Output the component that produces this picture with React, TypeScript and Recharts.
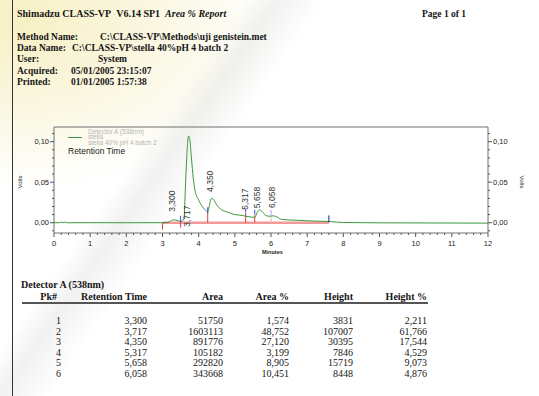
import React from "react";
import {
  ComposedChart,
  Line,
  XAxis,
  YAxis,
  ReferenceLine,
  ReferenceDot,
} from "recharts";

// chromatogram trace (minutes, volts)
const TIME = [
  0, 0.15, 0.2, 0.25, 0.3, 0.35, 1, 2, 3, 3.15, 3.2, 3.3, 3.4, 3.5, 3.55,
  3.6, 3.63, 3.67, 3.7, 3.72, 3.75, 3.8, 3.85, 3.9, 4.0, 4.1, 4.2, 4.25, 4.3,
  4.35, 4.4, 4.5, 4.6, 4.8, 5.0, 5.2, 5.3, 5.45, 5.55, 5.62, 5.68, 5.75, 5.85,
  5.95, 6.058, 6.15, 6.3, 6.7, 7.2, 7.6, 8.0, 9.3, 12,
];
const SIGNAL = [
  0, 0, 0.0008, 0, 0.0008, 0, 0, 0, 0, 0.0003, 0.0015, 0.0035, 0.003, 0.0015,
  0.002, 0.008, 0.04, 0.08, 0.102, 0.107, 0.104, 0.08, 0.055, 0.04, 0.028,
  0.02, 0.015, 0.013, 0.022, 0.03, 0.029, 0.022, 0.017, 0.013, 0.01, 0.009,
  0.008, 0.007, 0.0065, 0.013, 0.016, 0.014, 0.009, 0.008, 0.0085, 0.0075,
  0.004, 0.003, 0.002, 0.0015, 0.0003, -0.0002, -0.0005,
];

// integration marks
const PEAK_TIMES = [3.3, 3.717, 4.35, 5.317, 5.658, 6.058];
const PEAK_LABELS = ["3,300", "3,717", "4,350", "5,317", "5,658", "6,058"];
const LABEL_LEVELS = [0.0135, -0.005, 0.038, 0.016, 0.018, 0.018];

const BASELINE_START = 3.0;
const BASELINE_END = 7.6;
const DROP_TIMES = [3.0, 3.5, 4.25, 5.3, 5.55, 6.0];
const DROP_LOW = [-0.0085, -0.006, 0, 0, 0, 0];
const DROP_HIGH = [0, 0.004, 0.013, 0.012, 0.009, 0.008];
const TICK_TIMES = [3.5, 4.25, 5.3, 5.55, 6.0, 7.6];
const TICK_LOW = [0.001, 0.012, 0.0125, 0.01, 0.009, 0.0005];
const TICK_HIGH = [0.0085, 0.019, 0.0175, 0.016, 0.016, 0.009];

// axes
const X_DOMAIN = [0, 12];
const X_TICKS = [
  0, 0.2, 0.4, 0.6, 0.8, 1, 1.2, 1.4, 1.6, 1.8, 2, 2.2, 2.4, 2.6, 2.8, 3, 3.2,
  3.4, 3.6, 3.8, 4, 4.2, 4.4, 4.6, 4.8, 5, 5.2, 5.4, 5.6, 5.8, 6, 6.2, 6.4,
  6.6, 6.8, 7, 7.2, 7.4, 7.6, 7.8, 8, 8.2, 8.4, 8.6, 8.8, 9, 9.2, 9.4, 9.6,
  9.8, 10, 10.2, 10.4, 10.6, 10.8, 11, 11.2, 11.4, 11.6, 11.8, 12,
];
const Y_DOMAIN = [-0.0127, 0.1181];
const Y_TICKS = [
  -0.01, 0, 0.01, 0.02, 0.03, 0.04, 0.05, 0.06, 0.07, 0.08, 0.09, 0.1, 0.11,
];
const Y_LABELS: Record<string, string> = { "0": "0,00", "0.05": "0,05", "0.1": "0,10" };

// peak table
const PK = ["1", "2", "3", "4", "5", "6"];
const RET_TIME = ["3,300", "3,717", "4,350", "5,317", "5,658", "6,058"];
const AREA = ["51750", "1603113", "891776", "105182", "292820", "343668"];
const AREA_PCT = ["1,574", "48,752", "27,120", "3,199", "8,905", "10,451"];
const HEIGHT = ["3831", "107007", "30395", "7846", "15719", "8448"];
const HEIGHT_PCT = ["2,211", "61,766", "17,544", "4,529", "9,073", "4,876"];

const HEADER_ROWS = [
  ["Method Name:", "C:\\CLASS-VP\\Methods\\uji genistein.met", 100],
  ["Data Name:", "C:\\CLASS-VP\\stella 40%pH 4 batch 2", 72],
  ["User:", "System", 98],
  ["Acquired:", "05/01/2005 23:15:07", 71],
  ["Printed:", "01/01/2005 1:57:38", 71],
] as const;

const GREEN = "#3a9a3a";
const AXIS = "#707070";
const SANS = '"Liberation Sans", Arial, sans-serif';
const SERIF = '"Liberation Serif", "Times New Roman", serif';

const data = TIME.map((t, i) => ({ t, v: SIGNAL[i] }));

const isMajorX = (v: number) => Math.abs(v - Math.round(v)) < 1e-6;

function XTick(props: any) {
  const { x, y, payload } = props;
  const major = isMajorX(payload.value);
  return (
    <g>
      <line x1={x} x2={x} y1={y} y2={y + (major ? 4 : 2)} stroke="#555" />
      {major && (
        <text x={x} y={y + 13} textAnchor="middle" fontSize={7.5} fill="#222" fontFamily={SANS}>
          {Math.round(payload.value)}
        </text>
      )}
    </g>
  );
}

function YTick(props: any) {
  const { x, y, payload, side } = props;
  const label = Y_LABELS[String(Math.round(payload.value * 100) / 100)];
  const dir = side === "right" ? 1 : -1;
  return (
    <g>
      <line x1={x} x2={x + dir * (label ? 4 : 2)} y1={y} y2={y} stroke="#555" />
      {label && (
        <text
          x={x + dir * 5}
          y={y}
          dy="0.35em"
          textAnchor={side === "right" ? "start" : "end"}
          fontSize={7.5}
          fill="#222"
          fontFamily={SANS}
        >
          {label}
        </text>
      )}
    </g>
  );
}

function Txt(props: {
  x?: number;
  right?: number;
  y: number;
  size?: number;
  bold?: boolean;
  color?: string;
  font?: string;
  children: React.ReactNode;
}) {
  const { x, right, y, size = 10, bold, color = "#151515", font = SERIF } = props;
  return (
    <div
      style={{
        position: "absolute",
        left: right === undefined ? x : undefined,
        right: right === undefined ? undefined : 539 - right,
        top: y - 7,
        height: 14,
        lineHeight: "14px",
        fontSize: size,
        fontWeight: bold ? "bold" : "normal",
        fontFamily: font,
        color,
        whiteSpace: "nowrap",
      }}
    >
      {props.children}
    </div>
  );
}

export default function App() {
  const cols = [
    { head: "Pk#", end: 57, vals: PK, end2: 61 },
    { head: "Retention Time", end: 147, vals: RET_TIME, end2: 147 },
    { head: "Area", end: 223, vals: AREA, end2: 223 },
    { head: "Area %", end: 289, vals: AREA_PCT, end2: 289 },
    { head: "Height", end: 353, vals: HEIGHT, end2: 353 },
    { head: "Height %", end: 427, vals: HEIGHT_PCT, end2: 427 },
  ];
  const rowY = [321, 331.6, 342.2, 352.8, 363.4, 374];

  return (
    <div
      style={{
        position: "absolute",
        left: 0,
        top: 0,
        width: 539,
        height: 396,
        overflow: "hidden",
        background:
          "linear-gradient(125deg, rgba(255,255,255,0) 30%, rgba(200,200,200,0.25) 34%, rgba(255,255,255,0) 40%), radial-gradient(ellipse 260px 170px at 20px 20px, #f7f0c4 0%, #faf6de 45%, #ffffff 100%)",
      }}
    >
      <div style={{ position: "absolute", left: 12, top: 0, width: 1, height: 396, background: "#333" }} />

      <Txt x={17} y={14} size={10} bold>
        Shimadzu CLASS-VP&nbsp;&nbsp;V6.14 SP1&nbsp;&nbsp;<i>Area % Report</i>
      </Txt>
      <Txt x={422} y={14} size={9.5} bold>
        Page 1 of 1
      </Txt>
      {HEADER_ROWS.map(([label, value, vx], i) => (
        <React.Fragment key={label}>
          <Txt x={17} y={36.5 + i * 11.4} size={9.5} bold>
            {label}
          </Txt>
          <Txt x={vx} y={36.5 + i * 11.4} size={9.5} bold>
            {value}
          </Txt>
        </React.Fragment>
      ))}

      {/* legend inside the plot */}
      <div style={{ position: "absolute", left: 68, top: 137, width: 14, height: 1, background: GREEN }} />
      <Txt x={88} y={131.5} size={6.5} font={SANS} color="#b5b5b5">
        Detector A (538nm)
      </Txt>
      <Txt x={88} y={137.2} size={6.5} font={SANS} color="#b5b5b5">
        stella
      </Txt>
      <Txt x={88} y={142.8} size={6.5} font={SANS} color="#b5b5b5">
        stella 40% pH 4 batch 2
      </Txt>
      <Txt x={68} y={151} size={8.5} font={SANS} color="#222">
        Retention Time
      </Txt>

      <div
        style={{
          position: "absolute",
          left: 20,
          top: 182,
          fontSize: 6,
          fontFamily: SANS,
          color: "#222",
          transform: "translate(-50%, -50%) rotate(-90deg)",
        }}
      >
        Volts
      </div>
      <div
        style={{
          position: "absolute",
          left: 522,
          top: 182,
          fontSize: 6,
          fontFamily: SANS,
          color: "#222",
          transform: "translate(-50%, -50%) rotate(90deg)",
        }}
      >
        Volts
      </div>
      <Txt x={262} y={252} size={5.5} font={SANS} color="#222" bold>
        Minutes
      </Txt>

      <div style={{ position: "absolute", left: 0, top: 100 }}>
        <ComposedChart
          width={539}
          height={163}
          data={data}
          margin={{ top: 27, right: 0, left: 0, bottom: 0 }}
        >
          <XAxis
            dataKey="t"
            type="number"
            domain={X_DOMAIN}
            ticks={X_TICKS}
            interval={0}
            height={30}
            tickSize={0}
            tickMargin={0}
            tickLine={false}
            tick={<XTick />}
            axisLine={{ stroke: AXIS }}
          />
          <YAxis
            type="number"
            domain={Y_DOMAIN}
            allowDataOverflow
            ticks={Y_TICKS}
            interval={0}
            width={54}
            tickSize={0}
            tickMargin={0}
            tickLine={false}
            tick={<YTick side="left" />}
            axisLine={{ stroke: AXIS }}
          />
          <YAxis
            yAxisId="right"
            orientation="right"
            type="number"
            domain={Y_DOMAIN}
            allowDataOverflow
            ticks={Y_TICKS}
            interval={0}
            width={51}
            tickSize={0}
            tickMargin={0}
            tickLine={false}
            tick={<YTick side="right" />}
            axisLine={{ stroke: AXIS }}
          />
          {/* top edge of the plot frame */}
          <ReferenceLine y={Y_DOMAIN[1]} ifOverflow="visible" stroke={AXIS} strokeWidth={1} />
          <ReferenceLine
            segment={[
              { x: BASELINE_START, y: 0 },
              { x: BASELINE_END, y: 0 },
            ]}
            stroke="#f29a9a"
            strokeWidth={2.5}
          />
          {DROP_TIMES.map((t, i) => (
            <ReferenceLine
              key={"d" + i}
              segment={[
                { x: t, y: DROP_LOW[i] },
                { x: t, y: DROP_HIGH[i] },
              ]}
              stroke={i === 5 ? "#f4b0b0" : "#e03a3a"}
              strokeWidth={1}
            />
          ))}
          <Line
            type="monotone"
            dataKey="v"
            stroke={GREEN}
            strokeWidth={1}
            dot={false}
            isAnimationActive={false}
          />
          {TICK_TIMES.map((t, i) => (
            <ReferenceLine
              key={"b" + i}
              segment={[
                { x: t, y: TICK_LOW[i] },
                { x: t, y: TICK_HIGH[i] },
              ]}
              stroke={i === 4 ? "#9aa6f5" : i === 5 ? "#1c1c9a" : "#3f4fe0"}
              strokeWidth={1}
            />
          ))}
          {PEAK_TIMES.map((t, i) => (
            <ReferenceDot
              key={"p" + i}
              x={t}
              y={LABEL_LEVELS[i]}
              r={0}
              ifOverflow="visible"
              shape={(p: any) => (
                <text
                  x={p.cx - 1.5}
                  y={p.cy}
                  dy="0.35em"
                  transform={`rotate(-90 ${p.cx - 1.5} ${p.cy})`}
                  textAnchor="start"
                  fontSize={8.5}
                  fontFamily={SANS}
                  fill="#333"
                >
                  {PEAK_LABELS[i]}
                </text>
              )}
            />
          ))}
        </ComposedChart>
      </div>

      {/* peak table */}
      <Txt x={21} y={285} size={10} bold>
        Detector A (538nm)
      </Txt>
      {cols.map((c) => (
        <Txt key={c.head} right={c.end} y={297} size={10} bold>
          {c.head}
        </Txt>
      ))}
      <div style={{ position: "absolute", left: 22, top: 302, width: 406, height: 1.5, background: "#555" }} />
      {cols.map((c) =>
        c.vals.map((v, i) => (
          <Txt key={c.head + i} right={c.end2} y={rowY[i]} size={10}>
            {v}
          </Txt>
        ))
      )}
    </div>
  );
}
